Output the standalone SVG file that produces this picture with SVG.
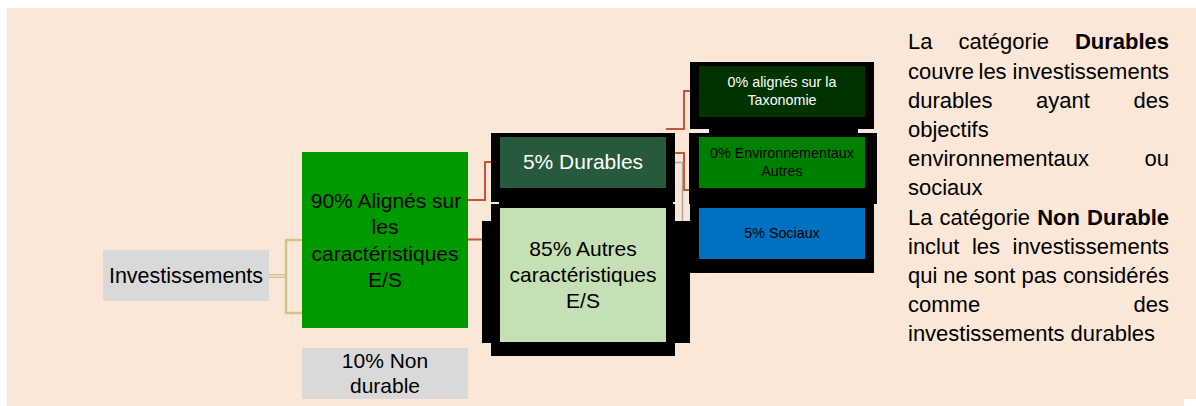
<svg xmlns="http://www.w3.org/2000/svg" width="1196" height="406" viewBox="0 0 1196 406">
<style>
  text { font-family: "Liberation Sans", Arial, sans-serif; fill: #000; }
  .big { font-size: 21px; text-anchor: middle; }
  .small { font-size: 14.3px; text-anchor: middle; }
  .desc { font-size: 22px; }
  .b { font-weight: bold; }
  .white { fill: #fff; }
  .frame { fill: #000; }
  .red { fill: none; stroke: #C8553A; stroke-width: 2; }
  .gray { fill: none; stroke: #A6A6A6; stroke-width: 1.5; }
  .khaki { fill: none; stroke: #D2C489; }
</style>
<rect x="7" y="8" width="1189" height="398" fill="#FBE7D7"/>
<rect x="1184" y="399" width="12" height="7" fill="#fff"/>

<g id="connectors">
  <path class="khaki" stroke-width="4" d="M269,276 H286"/>
  <path fill="none" stroke="#FBE7D7" stroke-width="1.3" d="M269,276 H285"/>
  <path class="khaki" stroke-width="2.5" d="M302,240 H286 V313 H302"/>
  <path class="red" d="M468,200 H485 V162 H492"/>
  <path class="red" d="M468,239.5 H483"/>
  <path class="red" d="M666,129 H684 V91 H691"/>
  <path class="red" d="M675,153 H684 V190 H689"/>
  <path class="gray" d="M675,162.5 H682.5 V221"/>
</g>

<g id="investissements">
  <rect x="103" y="250" width="166" height="51" fill="#D9D9D9"/>
  <text class="big" x="186" y="283" style="font-size:21.5px">Investissements</text>
</g>

<g id="alignes">
  <rect x="302" y="152" width="166" height="176" fill="#009900"/>
  <text class="big" x="386" y="208.3">90% Alignés sur</text>
  <text class="big" x="385" y="234.4">les</text>
  <text class="big" x="385" y="260.5">caractéristiques</text>
  <text class="big" x="385" y="286.6">E/S</text>
</g>

<g id="non-durable">
  <rect x="302" y="348" width="166" height="51" fill="#D9D9D9"/>
  <text class="big" x="385" y="367.7">10% Non</text>
  <text class="big" x="385" y="392.7">durable</text>
</g>

<g id="durables">
  <rect class="frame" x="491" y="133" width="184" height="69"/>
  <rect x="500" y="137" width="166" height="51" fill="#265A3B"/>
  <text class="big white" x="583" y="169">5% Durables</text>
</g>

<g id="autres">
  <rect class="frame" x="499" y="200" width="174" height="6"/>
  <rect class="frame" x="491" y="204" width="184" height="152"/>
  <rect class="frame" x="482" y="221" width="208" height="122"/>
  <rect x="500" y="208" width="166" height="134" fill="#C5E0B4"/>
  <text class="big" x="583" y="256">85% Autres</text>
  <text class="big" x="583" y="282.2">caractéristiques</text>
  <text class="big" x="583" y="308.3">E/S</text>
</g>

<g id="taxonomie">
  <rect class="frame" x="690" y="62" width="184" height="67"/>
  <rect class="frame" x="709" y="128" width="149" height="6"/>
  <rect x="699" y="66" width="166" height="51" fill="#003300"/>
  <text class="small white" x="782" y="87.3">0% alignés sur la</text>
  <text class="small white" x="782" y="105">Taxonomie</text>
</g>

<g id="environnementaux">
  <rect class="frame" x="689" y="133" width="188" height="71"/>
  <rect x="699" y="137" width="166" height="51" fill="#008000"/>
  <text class="small" x="782" y="158.3">0% Environnementaux</text>
  <text class="small" x="782" y="175.7">Autres</text>
</g>

<g id="sociaux">
  <rect class="frame" x="690" y="204" width="184" height="69"/>
  <rect x="699" y="208" width="166" height="51" fill="#0070C0"/>
  <text class="small" x="782" y="237.7">5% Sociaux</text>
</g>

<g id="description">
  <text class="desc" y="49.3"><tspan x="908">La</tspan><tspan x="958.5">catégorie</tspan><tspan x="1074.9" class="b" font-weight="bold">Durables</tspan></text>
  <text class="desc" y="78.5"><tspan x="908">couvre</tspan><tspan x="978.5">les</tspan><tspan x="1012.5">investissements</tspan></text>
  <text class="desc" y="107.7"><tspan x="908">durables</tspan><tspan x="1036">ayant</tspan><tspan x="1133.5">des</tspan></text>
  <text class="desc" x="908" y="136.9">objectifs</text>
  <text class="desc" y="166.1"><tspan x="908">environnementaux</tspan><tspan x="1144.5">ou</tspan></text>
  <text class="desc" x="908" y="195.3">sociaux</text>
  <text class="desc" y="224.5"><tspan x="908">La</tspan><tspan x="939.6">catégorie</tspan><tspan x="1037.2" font-weight="bold">Non</tspan><tspan x="1087.1" font-weight="bold">Durable</tspan></text>
  <text class="desc" y="253.7"><tspan x="908">inclut</tspan><tspan x="971.9">les</tspan><tspan x="1012.5">investissements</tspan></text>
  <text class="desc" x="908" y="282.9" textLength="261" lengthAdjust="spacing">qui ne sont pas considérés</text>
  <text class="desc" y="312.1"><tspan x="908">comme</tspan><tspan x="1133.5">des</tspan></text>
  <text class="desc" x="908" y="341.3">investissements durables</text>
</g>
</svg>
